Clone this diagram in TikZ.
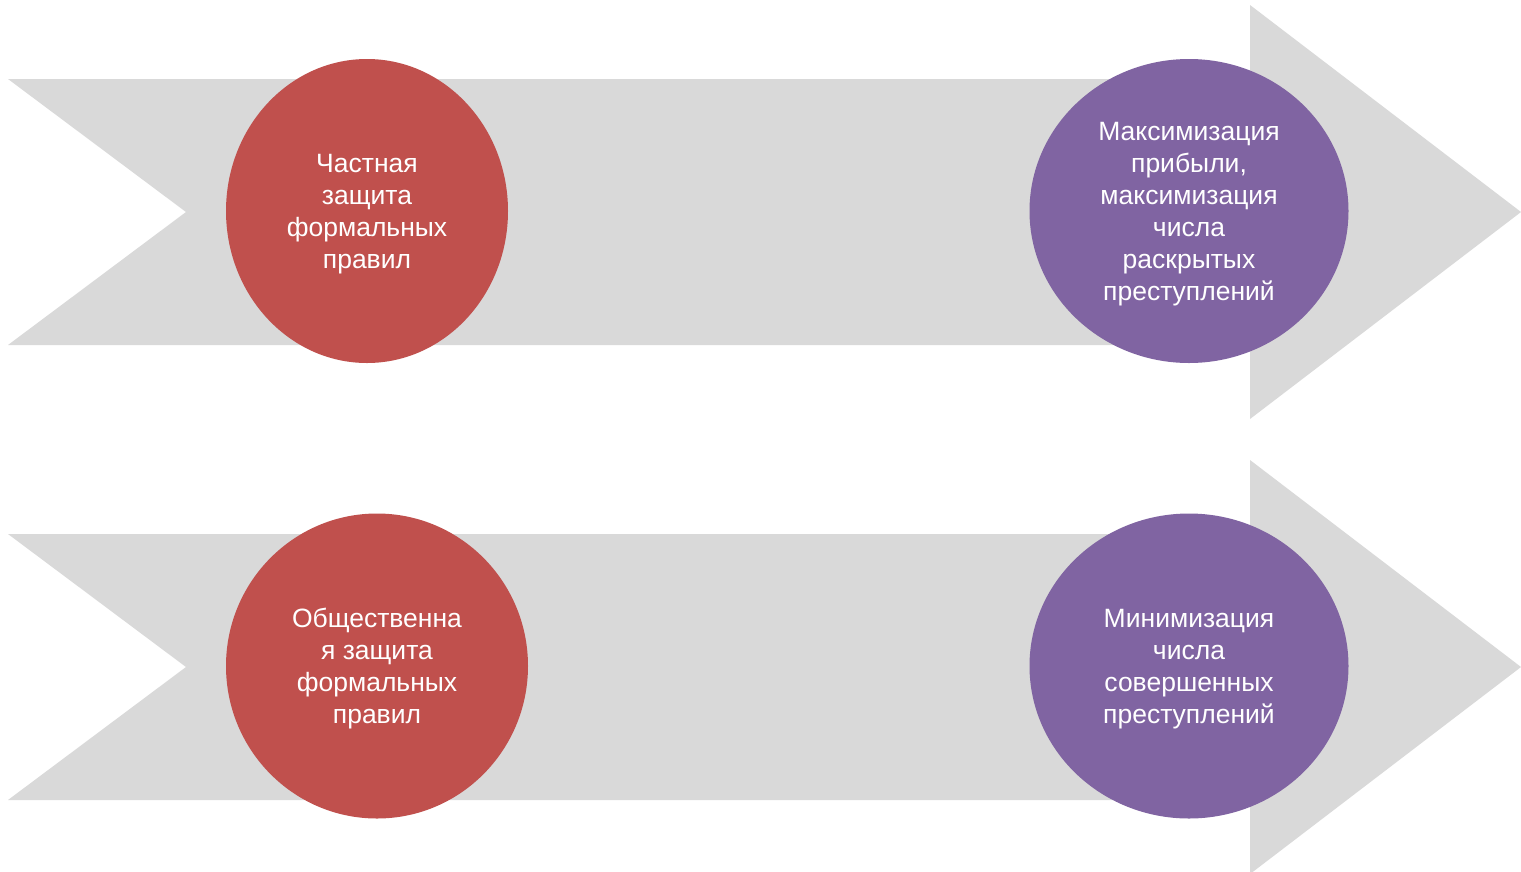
\documentclass[tikz,border=0pt]{standalone}
\usepackage{fontspec}
\setmainfont{Liberation Sans}
\usetikzlibrary{shapes.geometric}
\definecolor{arrowgray}{HTML}{D9D9D9}
\definecolor{redc}{HTML}{C0504D}
\definecolor{purc}{HTML}{8064A2}
\tikzset{
  chev/.style={fill=arrowgray, draw=none},
  bubble/.style={ellipse, draw=none, inner sep=0pt},
  redb/.style={bubble, fill=redc},
  purb/.style={bubble, fill=purc},
  btext/.style={text=white, align=center, inner sep=0pt, yshift=-3pt,
    font=\fontsize{26.5}{32}\selectfont}
}
\begin{document}
\begin{tikzpicture}[x=1pt,y=-1pt]
\useasboundingbox (0,0) rectangle (1521,871);
\clip (0,0) rectangle (1521,871);
\fill[white] (0,0) rectangle (1521,871);
\path[chev] (8,79) -- (1250,79) -- (1250,5) -- (1521,212) -- (1250,419) -- (1250,345) -- (8,345) -- (186,212) -- cycle;
\path[chev] (8,534) -- (1250,534) -- (1250,460) -- (1521,667) -- (1250,874) -- (1250,800) -- (8,800) -- (186,667) -- cycle;
\node[redb, minimum width=282pt, minimum height=304pt] (r1) at (367,211) {};
\node[purb, minimum width=319pt, minimum height=304pt] (p1) at (1189,211) {};
\node[redb, minimum width=302pt, minimum height=305pt] (r2) at (377,666) {};
\node[purb, minimum width=319pt, minimum height=305pt] (p2) at (1189,666) {};
\node[btext] (t1) at (r1.center) {Частная\\защита\\формальных\\правил};
\node[btext] (t2) at (p1.center) {Максимизация\\прибыли,\\максимизация\\числа\\раскрытых\\преступлений};
\node[btext] (t3) at (r2.center) {Общественна\\я защита\\формальных\\правил};
\node[btext] (t4) at (p2.center) {Минимизация\\числа\\совершенных\\преступлений};
\end{tikzpicture}
\end{document}
